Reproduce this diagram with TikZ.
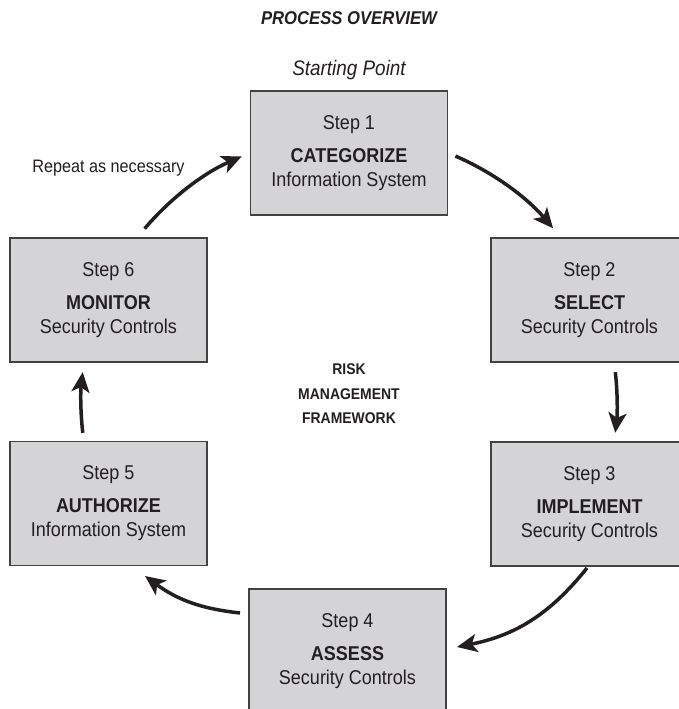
\documentclass[tikz,border=0pt]{standalone}
\usepackage{fontspec}
\setmainfont{Liberation Sans}[FakeStretch=0.9]
\usetikzlibrary{arrows.meta}
\definecolor{boxgray}{RGB}{212,212,214}
\definecolor{ink}{RGB}{35,31,32}
\begin{document}
\begin{tikzpicture}[x=1pt,y=-1pt,
  stepbox/.style={draw=ink!85,line width=1.2pt,fill=boxgray,minimum width=197pt,minimum height=124pt,
    inner sep=0pt,align=center,text=ink,font=\fontsize{20}{24}\selectfont},
  flow/.style={draw=ink,line width=3.5pt,-{Stealth[length=20pt,width=18pt,inset=5pt]}},
  label/.style={text=ink,inner sep=0pt}]
\clip (0,0) rectangle (679,709);
\coordinate (hub) at (349,402);
\node[label,font=\bfseries\itshape\fontsize{18.5}{22}\selectfont] (title) at (349,18) {PROCESS OVERVIEW};
\node[label,font=\itshape\fontsize{21}{25}\selectfont] (start) at (349,70) {Starting Point};
\node[label,font=\fontsize{18}{22}\selectfont,anchor=base] (repeat) at (108.5,172) {Repeat as necessary};
\node[label,align=center,font=\bfseries\fontsize{15.5}{24.5}\selectfont] (rmf) at (349,394) {RISK\\MANAGEMENT\\FRAMEWORK};
\node[stepbox] (s1) at (349,153) {Step 1\\[9pt]\textbf{CATEGORIZE}\\Information System};
\node[stepbox] (s2) at (589.5,300) {Step 2\\[9pt]\textbf{SELECT}\\Security Controls};
\node[stepbox] (s3) at (589.5,504) {Step 3\\[9pt]\textbf{IMPLEMENT}\\Security Controls};
\node[stepbox] (s4) at (347.5,651) {Step 4\\[9pt]\textbf{ASSESS}\\Security Controls};
\node[stepbox] (s5) at (108.5,503.5) {Step 5\\[9pt]\textbf{AUTHORIZE}\\Information System};
\node[stepbox] (s6) at (108.5,300) {Step 6\\[9pt]\textbf{MONITOR}\\Security Controls};
\coordinate (a3) at (587,568);
\coordinate (b4) at (457,647);
\coordinate (a4) at (240,613);
\coordinate (b5) at (145,576);
\draw[flow] ([shift={(-66.6:268)}]hub) arc[start angle=-66.6,end angle=-40.4,radius=268];
\draw[flow] ([shift={(-6.4:268)}]hub) arc[start angle=-6.4,end angle=6.6,radius=268];
\draw[flow] (a3) to[bend left=20] (b4);
\draw[flow] (a4) to[bend left=15] (b5);
\draw[flow] ([shift={(173.4:268)}]hub) arc[start angle=173.4,end angle=186.4,radius=268];
\draw[flow] ([shift={(220.3:268)}]hub) arc[start angle=220.3,end angle=246.4,radius=268];
\end{tikzpicture}
\end{document}
